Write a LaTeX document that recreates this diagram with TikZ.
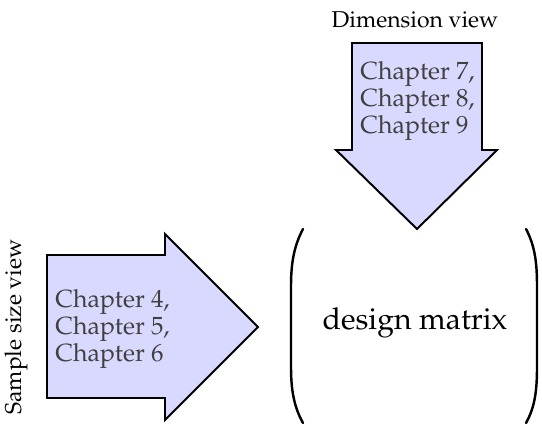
\documentclass[tikz,border=0pt]{standalone}
\IfFileExists{mathpazo.sty}{\usepackage[T1]{fontenc}\usepackage{mathpazo}}{%
  \IfFileExists{palatino.sty}{\usepackage[T1]{fontenc}\usepackage{palatino}}{%
    \usepackage{fontspec}\setmainfont{Liberation Serif}}}
\usepackage{tikz}
\tikzset{
    viewarrow/.style={draw=black, line width=0.8pt, fill=blue!15, line join=miter},
    chaptext/.style={align=left, inner sep=0pt, text=black!75, font=\fontsize{10.2}{10.9}\selectfont},
    viewlabel/.style={inner sep=0pt, font=\fontsize{9.4}{11}\selectfont},
    paren/.style={line width=1pt, line cap=round},
}

\begin{document}
\begin{tikzpicture}[x=0.41pt, y=-0.41pt]
    \useasboundingbox (0,0) rectangle (542,424);

    % Dimension view (down arrow)
    \node[viewlabel] (dimlabel) at (415,20) {Dimension view};
    \draw[viewarrow] (352,43) -- (482,43) -- (482,150) -- (497,150) -- (417,229)
        -- (336,150) -- (352,150) -- cycle;
    \node[chaptext, anchor=west] (dimtext) at (360,101) {Chapter 7,\\Chapter 8,\\Chapter 9};

    % Sample size view (right arrow)
    \node[viewlabel, rotate=90] (samplabel) at (16,327) {Sample size view};
    \draw[viewarrow] (47,255) -- (165,255) -- (165,234) -- (258,327) -- (165,420)
        -- (165,398) -- (47,398) -- cycle;
    \node[chaptext, anchor=west] (samptext) at (55,329) {Chapter 4,\\Chapter 5,\\Chapter 6};

    % Design matrix
    \node[inner sep=0pt, font=\fontsize{12.4}{14}\selectfont] (dm) at (415,323) {design matrix};
    \draw[paren] (303,229) .. controls (294,246) and (291,263) .. (291,286) -- (291,367)
        .. controls (291,390) and (294,407) .. (303,423);
    \draw[paren] (526,229) .. controls (535,246) and (537,263) .. (537,286) -- (537,367)
        .. controls (537,390) and (535,407) .. (526,423);
\end{tikzpicture}
\end{document}
